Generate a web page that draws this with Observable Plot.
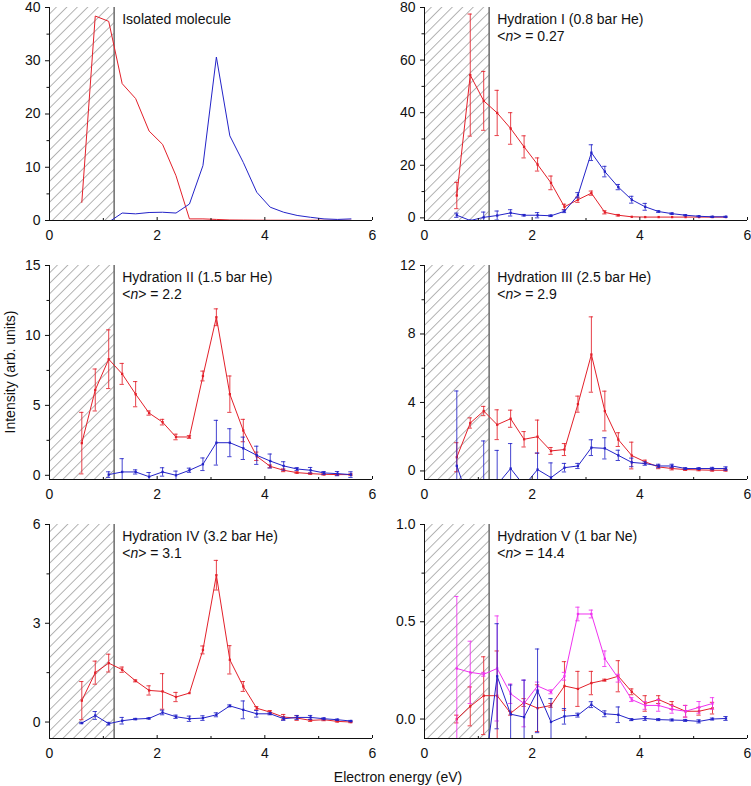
<!DOCTYPE html>
<html>
<head>
<meta charset="utf-8">
<script src="https://cdn.jsdelivr.net/npm/d3@7"></script>
<script src="https://cdn.jsdelivr.net/npm/@observablehq/plot@0.6"></script>
<style>
  body { margin: 0; background: #fff; font-family: "Liberation Sans", Arial, sans-serif; }
  #fig { position: relative; width: 751px; height: 786px; overflow: hidden; }
  .panel { position: absolute; }
  .ylab { position: absolute; left: -140px; top: 364px; width: 300px; text-align: center; font-size: 14px; line-height: 16px; color: #111; transform: rotate(-90deg); transform-origin: 150px 8px; }
  .xlab { position: absolute; left: 248px; top: 769px; width: 300px; text-align: center; font-size: 14px; line-height: 16px; color: #111; }
</style>
</head>
<body>
<div id="fig"></div>
<script>
// ---------- data ----------
const energy = [0.6, 0.85, 1.1, 1.35, 1.6, 1.85, 2.1, 2.35, 2.6, 2.85, 3.1, 3.35, 3.6, 3.85, 4.1, 4.35, 4.6, 4.85, 5.1, 5.35, 5.6];
const hatchEnd = 1.2;
const xTicks = [0, 2, 4, 6];
const xMinor = [1, 3, 5];

// Isolated molecule
const isoRed  = [3.4, 38.4, 37.4, 25.7, 22.9, 16.8, 14.3, 8.4, 0.3, 0.3, 0.2, 0.1, 0.08, 0.06, 0.05, 0.05, 0.05, 0.05, 0.05, 0.05, 0.05];
const isoBlue = [null, null, -0.3, 1.4, 1.25, 1.5, 1.55, 1.4, 3.1, 10.3, 30.7, 15.9, 10.9, 5.3, 2.5, 1.55, 0.95, 0.6, 0.3, 0.2, 0.3];

// Hydration I
const h1Red     = [8.5, 54.3, 44.5, 39.9, 34, 27, 20.3, 13.3, 4.2, 6.9, 9.4, 2.1, 1.0, 0.4, 0.3, 0.3, 0.3, 0.3, 0.3, 0.3, 0.3];
const h1RedErr  = [5, 23.2, 11.2, 8.6, 6, 4.2, 2.5, 2.6, 1, 1, 0.8, 0.6, 0.3, 0, 0, 0, 0, 0, 0, 0, 0];
const h1Blue    = [1.0, -1, 0.2, 0.9, 1.9, 1.0, 1.0, 0.8, 2.5, 8.6, 24.8, 17.6, 11.7, 6.9, 4.2, 2.4, 1.6, 1.0, 0.6, 0.4, 0.4];
const h1BlueErr = [0.8, 0, 2.0, 1.7, 1.2, 0.3, 1.0, 0.3, 0.5, 1.0, 3.0, 2.0, 1.0, 1.3, 1.3, 0.3, 0.3, 0.2, 0.2, 0.2, 0.2];

// Hydration II
const h2Red     = [2.3, 6.1, 8.3, 7.25, 5.8, 4.45, 3.8, 2.74, 2.74, 7.1, 11.3, 5.8, 3.2, 1.36, 0.64, 0.36, 0.19, 0.12, 0.07, 0.05, 0.05];
const h2RedErr  = [2.2, 1.5, 2.1, 0.75, 0.9, 0.15, 0.2, 0.2, 0.1, 0.35, 0.6, 1.3, 0.8, 0.3, 0.1, 0.1, 0.05, 0.05, 0.05, 0.05, 0.05];
const h2Blue    = [null, null, 0.05, 0.24, 0.24, -0.1, 0.24, 0.0, 0.36, 0.79, 2.33, 2.33, 1.93, 1.43, 1.02, 0.67, 0.45, 0.36, 0.17, 0.12, 0.05];
const h2BlueErr = [null, null, 0.2, 0.95, 0.15, 0.3, 0.3, 0.3, 0.15, 0.45, 1.6, 1.0, 0.8, 0.65, 0.5, 0.3, 0.1, 0.2, 0.1, 0.15, 0.2];

// Hydration III
const h3Red     = [0.8, 2.8, 3.5, 2.7, 3.05, 1.85, 2.0, 1.17, 1.25, 3.9, 6.8, 3.5, 1.83, 0.9, 0.53, 0.23, 0.14, 0.08, 0.06, 0.04, 0.04];
const h3RedErr  = [0.85, 0.3, 0.27, 0.87, 0.5, 0.45, 0.97, 0.2, 0.35, 0.47, 2.2, 1.16, 0.4, 0.78, 0.1, 0.1, 0.08, 0.05, 0.05, 0.05, 0.05];
const h3Blue    = [0.3, -2, -1.0, -0.8, 0.14, -0.86, 0.08, -0.39, 0.19, 0.29, 1.36, 1.32, 0.91, 0.5, 0.43, 0.29, 0.29, 0.14, 0.14, 0.14, 0.14];
const h3BlueErr = [4.37, 0, 2.75, 2.0, 1.46, 0, 0.97, 0.86, 0.25, 0.15, 0.46, 0.62, 0.3, 0.25, 0.1, 0.1, 0.1, 0.05, 0.05, 0.07, 0.1];

// Hydration IV
const h4Red     = [0.65, 1.5, 1.79, 1.59, 1.25, 0.96, 0.93, 0.76, 0.88, 2.19, 4.46, 1.89, 1.08, 0.42, 0.3, 0.15, 0.12, 0.05, 0.07, 0.02, 0.0];
const h4RedErr  = [0.58, 0.35, 0.27, 0.08, 0.03, 0.14, 0.54, 0.14, 0, 0.12, 0.45, 0.43, 0.15, 0.05, 0.05, 0.08, 0.07, 0.03, 0.03, 0.02, 0.02];
const h4Blue    = [-0.03, 0.2, -0.05, 0.04, 0.09, 0.11, 0.29, 0.16, 0.1, 0.12, 0.22, 0.49, 0.37, 0.25, 0.25, 0.1, 0.14, 0.14, 0.1, 0.07, 0.03];
const h4BlueErr = [0.02, 0.12, 0.04, 0.1, 0.02, 0.02, 0.07, 0.05, 0.08, 0.07, 0.06, 0.03, 0.27, 0.1, 0.03, 0.05, 0.06, 0.06, 0.03, 0.02, 0.02];

// Hydration V
const h5Mag     = [0.26, 0.24, 0.23, 0.26, 0.13, 0.08, 0.17, 0.14, 0.22, 0.54, 0.54, 0.31, 0.21, 0.10, 0.07, 0.07, 0.05, 0.04, 0.06, 0.08, null];
const h5MagErr  = [0.37, 0.16, 0.01, 0.27, 0.05, 0.12, 0.02, 0.01, 0.02, 0.035, 0.02, 0.04, 0.02, 0.01, 0.02, 0.03, 0.02, 0.03, 0.03, 0.03, null];
const h5Red     = [0.0, 0.065, 0.12, 0.12, 0.03, 0.085, 0.056, 0.07, 0.17, 0.155, 0.185, 0.2, 0.22, 0.14, 0.08, 0.1, 0.07, 0.04, 0.04, 0.056, null];
const h5RedErr  = [0.02, 0.1, 0.2, 0.23, 0.01, 0.02, 0.12, 0.01, 0.125, 0.09, 0.06, 0.005, 0.08, 0.015, 0.04, 0.02, 0.02, 0.03, 0.02, 0.03, null];
const h5Blue    = [null, null, -0.3, 0.22, 0.025, 0.01, 0.145, -0.015, 0.014, 0.02, 0.074, 0.027, 0.022, -0.003, 0.003, -0.003, -0.005, -0.007, -0.012, 0.0, 0.003];
const h5BlueErr = [null, null, 0, 0.27, 0.15, 0.19, 0.215, 0.12, 0.04, 0.01, 0.015, 0.015, 0.04, 0.005, 0.01, 0.005, 0.005, 0.005, 0.008, 0.005, 0.01];

const titles = ["Isolated molecule", "Hydration I (0.8 bar He)", "Hydration II (1.5 bar He)", "Hydration III (2.5 bar He)", "Hydration IV (3.2 bar He)", "Hydration V (1 bar Ne)"];
const nValues = [null, "0.27", "2.2", "2.9", "3.1", "14.4"];

const RED = "#e3202a", BLUE = "#2323c8", MAG = "#f032f0";

const panels = [
  {left: 0,   top: 0,   yDomain: [0, 40],    yTicks: [0, 10, 20, 30, 40], yMinor: [5, 15, 25, 35], fmt: d3.format("d"),
   series: [{y: isoRed, color: RED}, {y: isoBlue, color: BLUE}], markers: false},
  {left: 375, top: 0,   yDomain: [-1, 80],   yTicks: [0, 20, 40, 60, 80], yMinor: [10, 30, 50, 70], fmt: d3.format("d"),
   series: [{y: h1Red, e: h1RedErr, color: RED}, {y: h1Blue, e: h1BlueErr, color: BLUE}], markers: true},
  {left: 0,   top: 259, yDomain: [-0.3, 15], yTicks: [0, 5, 10, 15], yMinor: [2.5, 7.5, 12.5], fmt: d3.format("d"),
   series: [{y: h2Red, e: h2RedErr, color: RED}, {y: h2Blue, e: h2BlueErr, color: BLUE}], markers: true},
  {left: 375, top: 259, yDomain: [-0.5, 12], yTicks: [0, 4, 8, 12], yMinor: [2, 6, 10], fmt: d3.format("d"),
   series: [{y: h3Red, e: h3RedErr, color: RED}, {y: h3Blue, e: h3BlueErr, color: BLUE}], markers: true},
  {left: 0,   top: 518, yDomain: [-0.5, 6],  yTicks: [0, 3, 6], yMinor: [1.5, 4.5], fmt: d3.format("d"),
   series: [{y: h4Red, e: h4RedErr, color: RED}, {y: h4Blue, e: h4BlueErr, color: BLUE}], markers: true},
  {left: 375, top: 518, yDomain: [-0.1, 1.0], yTicks: [0, 0.5, 1.0], yMinor: [0.25, 0.75], fmt: d3.format(".1f"),
   series: [{y: h5Red, e: h5RedErr, color: RED}, {y: h5Mag, e: h5MagErr, color: MAG}, {y: h5Blue, e: h5BlueErr, color: BLUE}], markers: true}
];

const fig = document.getElementById("fig");
const capHalf = 0.04;
const titleX = 1.36;

panels.forEach((p, i) => {
  const marks = [];
  const pid = "hatch" + i;
  const topRow = p.top === 0;
  // hatch pattern definition
  marks.push(() => {
    const defs = d3.create("svg:defs");
    const pat = defs.append("pattern").attr("id", pid).attr("patternUnits", "userSpaceOnUse")
      .attr("width", 7.4).attr("height", 20).attr("patternTransform", "rotate(45)");
    pat.append("line").attr("x1", 0.5).attr("y1", 0).attr("x2", 0.5).attr("y2", 20)
      .attr("stroke", "#8c8c8c").attr("stroke-width", 0.7);
    return defs.node();
  });
  marks.push(Plot.rect([p.yDomain], {x1: 0, x2: hatchEnd, y1: d => d[0], y2: d => d[1], fill: `url(#${pid})`}));
  marks.push(Plot.ruleX([hatchEnd], {stroke: "#222", strokeWidth: 1}));

  p.series.forEach(s => {
    const rows = [];
    energy.forEach((x, k) => { if (s.y[k] != null) rows.push({x, y: s.y[k], e: s.e ? s.e[k] : 0}); });
    const errRows = rows.filter(d => d.e > 0);
    marks.push(Plot.ruleX(errRows, {x: "x", y1: d => d.y - d.e, y2: d => d.y + d.e, stroke: s.color, strokeWidth: 1, strokeOpacity: 0.85, clip: true}));
    marks.push(Plot.ruleY(errRows, {y: d => d.y + d.e, x1: d => d.x - capHalf, x2: d => d.x + capHalf, stroke: s.color, strokeWidth: 1, strokeOpacity: 0.85, clip: true}));
    marks.push(Plot.ruleY(errRows, {y: d => d.y - d.e, x1: d => d.x - capHalf, x2: d => d.x + capHalf, stroke: s.color, strokeWidth: 1, strokeOpacity: 0.85, clip: true}));
    marks.push(Plot.line(rows, {x: "x", y: "y", stroke: s.color, strokeWidth: 1, clip: true}));
    if (p.markers) marks.push(Plot.dot(rows, {x: "x", y: "y", symbol: "square", r: 1.3, fill: s.color, clip: true}));
  });

  // axes
  marks.push(Plot.ruleX([0], {stroke: "#111", strokeWidth: 1}));
  marks.push(Plot.ruleY([p.yDomain[0]], {stroke: "#111", strokeWidth: 1}));
  marks.push(Plot.axisY(p.yTicks, {tickSize: 4, tickPadding: 5, tickFormat: p.fmt, label: null, fontSize: 14}));
  marks.push(Plot.axisY(p.yMinor, {tickSize: 2.5, tickFormat: () => "", label: null}));
  marks.push(Plot.axisX(xTicks, {tickSize: -3, tickFormat: () => "", label: null}));
  marks.push(Plot.axisX(xMinor, {tickSize: -2, tickFormat: () => "", label: null}));
  marks.push(Plot.axisX(xTicks, {tickSize: 0, tickPadding: 10, label: null, fontSize: 14}));

  // title text
  marks.push((index, scales, values, dims) => {
    const g = d3.create("svg:g").attr("font-size", 14).attr("fill", "#111").attr("text-anchor", "start");
    const x = scales.x(titleX);
    g.append("text").attr("x", x).attr("y", dims.marginTop + 17).text(titles[i]);
    if (nValues[i]) {
      const t = g.append("text").attr("x", x).attr("y", dims.marginTop + 33.5);
      t.append("tspan").text("<");
      t.append("tspan").attr("font-style", "italic").text("n");
      t.append("tspan").text("> = " + nValues[i]);
    }
    return g.node();
  });

  const chart = Plot.plot({
    width: 375,
    height: 250,
    marginLeft: 49,
    marginRight: 3,
    marginTop: topRow ? 7 : 6,
    marginBottom: 30,
    x: {domain: [0, 6]},
    y: {domain: p.yDomain},
    style: {fontFamily: "'Liberation Sans', Arial, sans-serif", fontSize: "14px", background: "transparent", overflow: "visible", color: "#111"},
    marks
  });
  const wrap = document.createElement("div");
  wrap.className = "panel";
  wrap.style.left = p.left + "px";
  wrap.style.top = p.top + "px";
  wrap.appendChild(chart);
  fig.appendChild(wrap);
});

const yl = document.createElement("div");
yl.className = "ylab";
yl.textContent = "Intensity (arb. units)";
fig.appendChild(yl);
const xl = document.createElement("div");
xl.className = "xlab";
xl.textContent = "Electron energy (eV)";
fig.appendChild(xl);
</script>
</body>
</html>
